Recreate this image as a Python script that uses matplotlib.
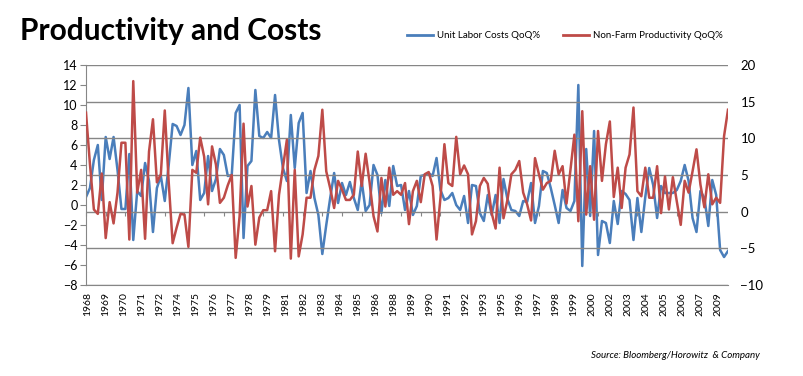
import matplotlib
matplotlib.use("Agg")
import matplotlib.pyplot as plt
from matplotlib.lines import Line2D
import numpy as np

plt.rcParams['font.family'] = ['Lato', 'DejaVu Sans']

# quarterly values, early 1968 .. autumn 2009
unit_labor = [
    0.8, 1.7, 4.5, 6.0, 0.5, 6.8, 4.6, 6.8, 3.5, -0.4,
    -0.4, 5.1, -3.5, 1.4, 0.9, 4.2, 2.4, -2.7, 1.7, 2.9,
    0.4, 4.0, 8.1, 7.9, 7.0, 8.0, 11.7, 4.0, 5.4, 0.5,
    1.2, 4.9, 1.4, 2.6, 5.6, 5.0, 2.9, 3.0, 9.2, 10.0,
    -3.3, 3.9, 4.4, 11.5, 6.9, 6.7, 7.3, 6.7, 11.0, 6.5,
    3.7, 2.4, 9.0, 3.7, 8.2, 9.2, 1.2, 3.4, 0.7, -1.0,
    -4.9, -2.0, 0.7, 3.2, 0.2, 2.2, 1.0, 2.3, 0.7, -0.5,
    2.4, -0.6, 0.0, 4.0, 3.0, -0.8, 2.5, -0.1, 3.9, 1.9,
    2.0, -0.5, 1.4, -1.0, -0.1, 2.9, 3.0, 3.2, 2.9, 4.7,
    1.5, 0.5, 0.7, 1.2, 0.0, -0.5, 0.9, -1.8, 2.0, 1.9,
    -0.8, -1.6, 1.0, -1.0, 1.0, -1.8, 2.6, 0.6, -0.5, -0.6,
    -1.1, 0.4, 0.3, 2.2, -1.8, -0.1, 3.4, 3.2, 1.7, 0.0,
    -1.8, 1.5, -0.3, -0.6, 0.4, 12.0, -6.1, 5.6, -1.1, 7.4,
    -5.0, -1.6, -1.8, -3.8, 0.4, -1.9, 1.4, 1.1, 0.5, -3.5,
    0.7, -2.7, 0.8, 3.7, 2.0, -1.3, 1.9, 1.2, 1.2, 1.2,
    1.5, 2.4, 4.0, 2.4, -1.3, -2.7, 1.4, 0.7, -2.1, 2.5,
    1.0, -4.5, -5.2, -4.6,
]

productivity = [
    13.5, 6.5, 0.3, -0.3, 5.2, -3.6, 1.3, -1.6, 2.6, 9.4,
    9.4, -3.8, 17.8, 2.6, 5.7, -3.7, 8.2, 12.6, 4.0, 5.1,
    13.8, 4.0, -4.3, -2.2, -0.3, -0.4, -4.8, 5.7, 5.3, 10.1,
    7.5, 1.0, 8.9, 6.4, 1.2, 1.9, 3.6, 5.0, -6.3, -0.6,
    12.0, 0.7, 3.5, -4.5, -0.8, 0.2, 0.2, 2.8, -5.4, 2.3,
    6.0, 9.8, -6.4, 5.7, -6.1, -3.1, 1.9, 1.9, 5.7, 7.6,
    13.9, 5.5, 3.2, 0.5, 4.2, 3.0, 1.6, 1.6, 2.3, 8.2,
    3.5, 7.9, 4.0, -0.6, -2.7, 4.6, 0.7, 6.0, 2.3, 2.8,
    2.3, 3.9, -1.7, 2.8, 4.2, 1.3, 5.1, 5.4, 3.5, -3.8,
    1.9, 9.2, 3.9, 3.5, 10.2, 5.1, 6.3, 5.1, -3.1, -1.3,
    3.5, 4.6, 3.8, -0.2, -2.3, 6.0, -0.9, 1.6, 5.1, 5.7,
    6.9, 2.6, 1.0, -1.2, 7.3, 5.1, 3.0, 3.9, 4.2, 8.3,
    5.1, 6.2, 1.1, 5.7, 10.5, -1.3, 13.7, -0.4, 6.2, -1.1,
    11.0, 4.2, 9.2, 12.3, 2.0, 6.0, 0.5, 6.0, 7.8, 14.2,
    2.8, 2.1, 6.0, 1.9, 1.9, 6.2, -0.2, 4.8, 0.3, 4.7,
    1.4, -1.8, 4.2, 2.6, 5.5, 8.5, 3.7, 0.6, 5.1, 1.0,
    1.9, 1.2, 10.3, 13.9,
]

# Excel date axis: a label every 14 months, showing only the year
year_labels = ['1968', '1969', '1970', '1971', '1972', '1974', '1975', '1976',
               '1977', '1978', '1979', '1981', '1982', '1983', '1984', '1985',
               '1986', '1988', '1989', '1990', '1991', '1992', '1993', '1995',
               '1996', '1997', '1998', '1999', '2000', '2002', '2003', '2004',
               '2005', '2006', '2007', '2009']
span_months = 499      # Feb 1968 .. Sep 2009
first_label_month = 1  # Mar 1968
label_step_months = 14

BLUE = '#4A7EBB'
RED = '#BE4B48'
GRID = '#868686'

x = np.arange(len(unit_labor))
per_month = (len(x) - 1) / span_months
label_pos = [(first_label_month + k * label_step_months) * per_month
             for k in range(len(year_labels))]

fig = plt.figure(figsize=(8.04, 3.76), dpi=100)
ax = fig.add_axes([86 / 804, 1 - 285 / 376, 642 / 804, 220 / 376])
ax2 = ax.twinx()

ax.plot(x, unit_labor, color=BLUE, lw=1.8)
ax2.plot(x, productivity, color=RED, lw=1.8)

ax.set_xlim(0, len(x) - 1)
ax.set_ylim(-8, 14)
ax.set_yticks(range(-8, 15, 2))
ax2.set_ylim(-10, 20)
ax2.set_yticks(range(-10, 21, 5))
ax2.yaxis.grid(True, color=GRID, lw=1)
ax2.set_axisbelow(True)

ax.set_xticks(label_pos)
ax.set_xticklabels(year_labels, rotation=90, fontsize=7.5)
ax.tick_params(axis='x', length=0, pad=5)
ax.tick_params(axis='y', length=4, color=GRID, labelsize=9, pad=2)
ax2.tick_params(axis='y', length=0, labelsize=9.5, pad=9)

for s in ['top', 'right']:
    ax.spines[s].set_visible(False)
ax.spines['left'].set_color(GRID)
ax.spines['bottom'].set_color(GRID)
for s in ax2.spines.values():
    s.set_visible(False)

# small tick marks of the secondary category axis along the right-axis zero line
zero_ax = ax.secondary_xaxis(1 / 3)
zero_ax.set_xticks(x[::5])
zero_ax.tick_params(length=3, color=GRID, labelbottom=False)
zero_ax.spines['bottom'].set_visible(False)

fig.text(20 / 804, 1 - 31 / 376, 'Productivity and Costs', fontsize=21.5,
         weight='bold', va='center')

handles = [Line2D([], [], color=BLUE, lw=2), Line2D([], [], color=RED, lw=2)]
fig.legend(handles, ['Unit Labor Costs QoQ%', 'Non-Farm Productivity QoQ%'],
           loc='center left', bbox_to_anchor=(398 / 804, 1 - 36 / 376), ncol=2,
           frameon=False, fontsize=7, handlelength=2.7, handletextpad=0.4,
           columnspacing=2.4)

fig.text(760 / 804, 1 - 356 / 376, 'Source: Bloomberg/Horowitz  & Company',
         ha='right', va='center', style='italic', fontsize=7)

fig.savefig('out.png', dpi=100)
